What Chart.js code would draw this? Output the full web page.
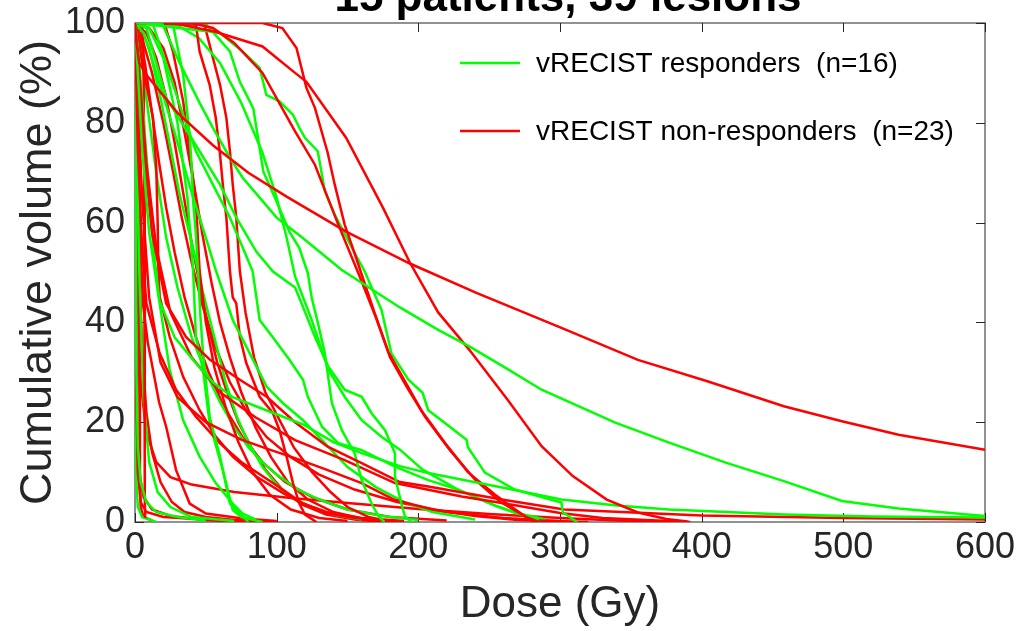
<!DOCTYPE html>
<html>
<head>
<meta charset="utf-8">
<script src="https://cdn.jsdelivr.net/npm/chart.js@4"></script>
<style>
  html, body { margin: 0; padding: 0; background: #fff; }
  #wrap { width: 1018px; height: 631px; position: relative; }
</style>
</head>
<body>
<div id="wrap"><canvas id="dvh"></canvas></div>
<script>
// ============================================================
// Cumulative dose-volume histograms, 15 patients / 39 lesions
// each curve: [dose (Gy), cumulative volume (%)]
// ============================================================

const TITLE = '15 patients, 39 lesions';
const X_TITLE = 'Dose (Gy)';
const Y_TITLE = 'Cumulative volume (%)';
const X_TICKS = [0, 100, 200, 300, 400, 500, 600];
const Y_TICKS = [0, 20, 40, 60, 80, 100];
const LEGEND_LABELS = ['vRECIST responders  (n=16)', 'vRECIST non-responders  (n=23)'];

// responders (green)
const g01 = [[0,100],[19.5,99.7],[31.5,92],[45.6,84],[55,79],[67,73],[76,69],[88,65],[100,61],[118,57],[146,50.5],[187,43],[214,38.5],[236,35.2],[261,31],[287,26.5],[339,19.9],[377,15.9],[417,11.9],[458,8.2],[499,4.2],[539,2.7],[600,1.2]];
const g02 = [[0,100],[2,90],[5,75],[10,58],[17,44.5],[28,37],[41,32.5],[55,28],[69,25],[98,21.8],[119,19.5],[140,16],[160,13.8],[187,11.2],[207,9.8],[241,7.9],[261,6.8],[301,4.5],[340,3.3],[377,2.5],[458,1.5],[520,1.1],[600,0.9]];
const g03 = [[0,100],[8,99],[22,85],[45.6,74.3],[60,67.6],[71.5,61],[85.6,54.2],[97.4,50.2],[113,47],[117.6,43.8],[127,37.1],[136.5,31.1],[148,26.5],[160,25.1],[167,21.8],[176.5,18.4],[183.5,13.8],[183.5,9.1],[188,3.7],[190.6,1.1],[195,0]];
const g04 = [[0,100],[52.7,98.3],[60,98],[76,94.3],[88,91],[92.7,85.6],[102,84.3],[111.5,81.6],[116,79],[120,77],[129,74.3],[134,66.3],[141,61.6],[153,55],[162,50.3],[174,42.5],[181,33.8],[193,28.5],[203,25.9],[207,22.4],[219,19.8],[234,16.5],[235,15],[247,9.9],[268,6.5],[301,3.9],[302,1.9],[306,1.2],[312,0]];
const g05 = [[0,100],[40,100],[50.6,99.6],[67,94.3],[74,88.2],[83.5,82.9],[88,74.9],[90.6,70.2],[100,64.2],[109,58.2],[116,54.9],[122,49.9],[124.7,45],[129,40],[134,33.8],[139,23.8],[146,18.4],[155,13.8],[160,8.4],[167,3.7],[172,1.1],[176,0]];
const g06 = [[0,100],[12.7,99.7],[24.5,89.6],[34,81.6],[43,74.3],[55,67.6],[67,61],[76,55],[83,50.3],[88,40.5],[97,37.1],[109,32.5],[118.6,28.5],[122,25.1],[132,19.1],[143.5,15.8],[160,14.4],[183.5,11.1],[207,8.4],[228,6.5],[255,3.2],[268,1.9],[285,0.3]];
const g07 = [[0,100],[26.8,99.7],[34,89.6],[36,84.3],[38.6,77.6],[40,71],[41,64.3],[43,57.6],[44.5,50.3],[46,42],[48,33.9],[52.7,21.1],[60,13.1],[67,3.7],[74,1.8],[80,0]];
const g08 = [[0,100],[2,95],[5,85],[9,70],[13,55],[17.4,43.8],[24.5,30.5],[34,20.4],[45.6,13.1],[57,7.8],[69,3.7],[76,1.7],[85,0.5]];
const g09 = [[0,100],[6,98],[15,90],[28,78],[40,66],[50,57],[57,50.5],[69,40.5],[81,33.8],[93,27.1],[104.5,23.8],[118.6,20.4],[135,15.5],[150,11],[170,7],[190,4],[210,2],[240,0.5]];
const g10 = [[0,100],[10,99],[20,93],[30,80],[37,65],[41,50.5],[43,37.1],[48,30.5],[52.7,19.8],[62,10.4],[69,2.4],[75,1],[90,0]];
const g11 = [[0,100],[30,99.5],[45,97],[60,92],[75,84],[90,74],[100,65],[107,57],[113,49.2],[124.7,40.5],[136.5,30.5],[148,25.1],[160,20.4],[174,17.1],[187,14.5],[203,10.5],[228,6.5],[255,3.2],[268,1.9],[290,0.5]];
const g12 = [[0,100],[0.5,60],[1,30],[2,15],[4,8],[8,4],[15,2],[30,1],[50,0.3]];
const g13 = [[0,100],[1,80],[3,50],[6,25],[10,12],[16,6],[25,3],[40,1],[70,0.2]];
const g14 = [[0,100],[3,96],[8,85],[15,70],[22,57],[30,47],[40,37],[50,30],[60,24],[70,19],[80,15],[90,12],[100,9.5],[115,6.5],[130,4.5],[150,2.5],[175,1.2],[200,0.4]];
const g15 = [[0,100],[4,99],[10,95],[18,85],[25,75],[32,65],[40,56],[48,46],[56,37],[64,28],[72,21],[80,16],[90,11],[100,7.5],[110,5],[125,3],[140,1.5],[160,0.5]];
const g16 = [[0,100],[0.3,50],[0.6,20],[1,8],[2,3],[5,1],[15,0]];

// non-responders (red)
const r01 = [[0,100],[1,96],[3,92],[8,89.6],[30,82],[55,75.5],[80,70],[107,65.2],[149,58.2],[194,51.8],[241,45.9],[301,38.9],[355,32.5],[404,28.2],[458,23.2],[499,20.2],[539,17.5],[600,14.5]];
const r02 = [[0,100],[30,99.8],[56,98.3],[90,95.3],[113,90],[121,88.2],[149,77],[175,63],[194,52],[214,42],[236,34.5],[263,24.5],[287,15.2],[309,9.2],[333,4.5],[355,1.9],[375,0.6],[390,0.1]];
const r03 = [[0,100],[90,100],[104,99],[114,95],[121,87],[127,83],[136,74],[141,67.6],[148,59.6],[156,53],[169,42],[179,34],[190,28.5],[202,22.4],[219,15.8],[235,10],[254,5.5],[266,3],[276,1],[285,0]];
const r04 = [[0,100],[40,100],[55,99],[70,96],[90,90],[113,78.3],[127,71.6],[143.5,59.6],[157.6,49.9],[170,41],[180,33],[192,27],[205,21],[222,14.5],[240,8.5],[258,4],[270,2],[282,0]];
const r05 = [[0,100],[2,90],[6,75],[12,58],[22,43.8],[36,37.1],[53,32.5],[74,28.5],[93,25.1],[113,20],[136,15.1],[160,11.8],[187,8],[207,7.1],[261,4.4],[303,2.5],[400,1.3],[500,0.8],[600,0.5]];
const r06 = [[0,100],[3,90],[8,72],[15,55],[25,42],[40,33],[60,26],[85,21],[113,16.4],[148,12.4],[183.5,7.8],[230.6,5.1],[261,3.7],[300,1.8],[330,0.8],[392,0]];
const r07 = [[0,100],[2,85],[5,65],[10,45],[18,32],[30,25],[50,20],[75,16.5],[95,14.5],[113,12.8],[136,10.4],[160,7.8],[183.5,4.4],[210,2.5],[240,1.2],[270,0.4],[320,0]];
const r08 = [[0,100],[2,75],[5,55],[8,43.8],[17.4,33.8],[29,26.5],[43,21.1],[59.8,15.8],[76,11.8],[97.4,7.8],[118.6,3.7],[135,1.8],[155,0.8],[180,0.2]];
const r09 = [[0,100],[3,96],[5.6,91],[12.7,81],[15,71],[16,60],[16.5,50.5],[17.4,45.2],[24.5,37.1],[34,29.1],[45.6,22.4],[57,17.1],[69,13.1],[85.6,9.1],[104.5,5.8],[118.6,3.7],[135,2],[160,0.8],[190,0.2]];
const r10 = [[0,100],[21,99.7],[26.8,94.3],[34,84.3],[38.6,74.3],[43,64.3],[45.6,50.3],[50,40],[56,31],[64,23],[73,16],[83,10],[95,5.5],[110,2.5],[130,0.8],[150,0.2]];
const r11 = [[0,100],[43,99.7],[45.6,94.3],[52.7,87.6],[57,81],[59.8,74.3],[62,67.6],[64.5,61],[67,50.3],[69,45],[71.5,43.8],[74,37.1],[78.6,31.8],[88,25.1],[97.4,21.8],[102,18.4],[107,13.1],[111.5,7.8],[116,3.7],[120,1.5],[128,0]];
const r12 = [[0,100],[49,99.7],[55,93],[60,87.6],[64.5,81],[67,74.3],[69,67.6],[71.5,61],[74,50.3],[78,42],[84,33],[92,26],[101,21],[112,15],[125,10],[138,6],[150,3],[165,1],[180,0]];
const r13 = [[0,100],[5,99],[6,95],[6.5,70],[6.8,30],[7,5],[7.2,0.8]];
const r14 = [[0,100],[0.5,50],[1,25],[2,10],[4,4],[8,2],[20,1],[60,0.3],[100,0]];
const r15 = [[0,100],[0.3,70],[0.8,40],[1.5,20],[3,10],[6,5],[12,2.5],[25,1.2],[50,0.4],[80,0]];
const r16 = [[0,100],[1,80],[2.5,55],[5,35],[8,22],[12,14],[18,8],[26,4],[35,2],[50,1],[70,0.4],[100,0]];
const r17 = [[0,100],[1,90],[2.5,70],[4,55],[5.6,43.8],[9,36],[12.7,30.5],[17,24],[22,19.1],[29,10.4],[38.6,3.7],[50,1.7],[76,0.7],[100,0.2]];
const r18 = [[0,100],[8,98],[15,93],[22,85],[28,76],[34,66],[40,56],[46,47],[52,39],[58,32],[65,26],[73,20],[82,15],[92,10.5],[104,6.5],[118,3.5],[135,1.5],[155,0.5],[175,0]];
const r19 = [[0,100],[10,99],[20,95],[28,88],[35,78],[42,67],[48,57],[54,48],[60,40],[67,33],[75,26],[85,19],[96,13],[108,8],[122,4.5],[140,2],[160,0.7],[185,0]];
const r20 = [[0,100],[5,97],[12,90],[20,80],[27,70],[33,61],[40,52],[48,43],[57,35],[67,28],[79,22],[93,17],[110,13],[130,9.5],[155,6.5],[185,4],[220,2],[260,0.8],[310,0]];
const r21 = [[0,100],[1,99],[2,90],[2.5,60],[3,30],[3.5,10],[4,3],[6,1],[12,0.3]];
const r22 = [[0,100],[3,98],[7,92],[12,82],[17,72],[22,63],[28,54],[35,45],[43,37],[52,30],[63,23],[76,17],[90,12],[106,8],[125,5],[150,2.5],[180,1],[220,0.3]];
const r23 = [[0,100],[1,70],[2,45],[4,28],[8,18],[15,12],[25,9],[40,7.5],[70,6],[110,4.8],[150,3.8],[200,2.6],[250,1.6],[300,0.8],[340,0.3],[390,0]];

const GREEN = '#00ff00';
const RED = '#ff0000';
const FONT = "'Liberation Sans', Arial, sans-serif";
const INK = '#262626';

const greens = [g01, g02, g03, g04, g05, g06, g07, g08, g09, g10, g11, g12, g13, g14, g15, g16];
const reds = [r01, r02, r03, r04, r05, r06, r07, r08, r09, r10, r11, r12, r13, r14, r15, r16, r17, r18, r19, r20, r21, r22, r23];

function toDataset(curve, color) {
  return {
    data: curve.map(p => ({ x: p[0], y: p[1] })),
    borderColor: color,
    borderWidth: 2.5,
    pointRadius: 0,
    showLine: true,
    fill: false,
    tension: 0,
  };
}

// interleave the two groups so neither colour sits wholly on top
const datasets = [];
const n = Math.max(greens.length, reds.length);
for (let i = 0; i < n; i++) {
  if (reds[i]) datasets.push(toDataset(reds[i], RED));
  if (greens[i]) datasets.push(toDataset(greens[i], GREEN));
}

// axes box with inward ticks on all four sides (MATLAB style)
const boxPlugin = {
  id: 'box',
  beforeDatasetsDraw(chart) {
    const { ctx, chartArea: a, scales: { x, y } } = chart;
    ctx.save();
    ctx.strokeStyle = '#6e6e6e';
    ctx.lineWidth = 1.5;
    ctx.strokeRect(a.left, a.top, a.right - a.left, a.bottom - a.top);
    ctx.strokeStyle = INK;
    ctx.lineWidth = 1;
    const len = 9;
    ctx.beginPath();
    X_TICKS.forEach(v => {
      const px = Math.round(x.getPixelForValue(v)) + 0.5;
      ctx.moveTo(px, a.bottom); ctx.lineTo(px, a.bottom - len);
      ctx.moveTo(px, a.top); ctx.lineTo(px, a.top + len);
    });
    Y_TICKS.forEach(v => {
      const py = Math.round(y.getPixelForValue(v)) + 0.5;
      ctx.moveTo(a.left, py); ctx.lineTo(a.left + len, py);
      ctx.moveTo(a.right, py); ctx.lineTo(a.right - len, py);
    });
    ctx.stroke();
    ctx.restore();
  },
  afterDraw(chart) {
    const { ctx, chartArea: a } = chart;
    ctx.save();
    // title, mostly cut off by the top edge as in the source figure
    ctx.fillStyle = '#000';
    ctx.font = `bold 44px ${FONT}`;
    ctx.textAlign = 'center';
    ctx.textBaseline = 'alphabetic';
    ctx.fillText(TITLE, (a.left + a.right) / 2 + 8, 11);
    // legend inside the axes, top right
    const rows = [[LEGEND_LABELS[0], GREEN, 63], [LEGEND_LABELS[1], RED, 131]];
    ctx.font = `28px ${FONT}`;
    ctx.textAlign = 'left';
    ctx.textBaseline = 'middle';
    rows.forEach(([label, color, yy]) => {
      ctx.strokeStyle = color;
      ctx.lineWidth = 2.5;
      ctx.beginPath();
      ctx.moveTo(460, yy); ctx.lineTo(520, yy);
      ctx.stroke();
      ctx.fillStyle = '#000';
      ctx.fillText(label, 536, yy + 1);
    });
    ctx.restore();
  }
};

new Chart(document.getElementById('dvh'), {
  type: 'scatter',
  data: { datasets },
  options: {
    responsive: true,
    maintainAspectRatio: false,
    animation: false,
    layout: { padding: { top: 23, right: 33, left: 0, bottom: 0 } },
    plugins: { legend: { display: false }, tooltip: { enabled: false } },
    scales: {
      x: {
        type: 'linear',
        min: 0, max: 600,
        afterBuildTicks: s => { s.ticks = X_TICKS.map(v => ({ value: v })); },
        afterFit: s => { s.height = 109; s.paddingLeft = 0; s.paddingRight = 0; },
        grid: { display: false, drawTicks: false },
        border: { display: false },
        ticks: { color: INK, padding: 4, maxRotation: 0, font: { family: FONT, size: 36 } },
        title: { display: true, text: X_TITLE, color: INK, padding: { top: 0, bottom: 0 }, font: { family: FONT, size: 44 } },
      },
      y: {
        type: 'linear',
        min: 0, max: 100,
        afterBuildTicks: s => { s.ticks = Y_TICKS.map(v => ({ value: v })); },
        afterFit: s => { s.width = 135; s.paddingTop = 0; s.paddingBottom = 0; },
        grid: { display: false, drawTicks: false },
        border: { display: false },
        ticks: { color: INK, padding: 10, font: { family: FONT, size: 36 } },
        title: { display: true, text: Y_TITLE, color: INK, padding: { top: 12, bottom: 0 }, font: { family: FONT, size: 45 } },
      }
    }
  },
  plugins: [boxPlugin]
});
</script>
</body>
</html>
